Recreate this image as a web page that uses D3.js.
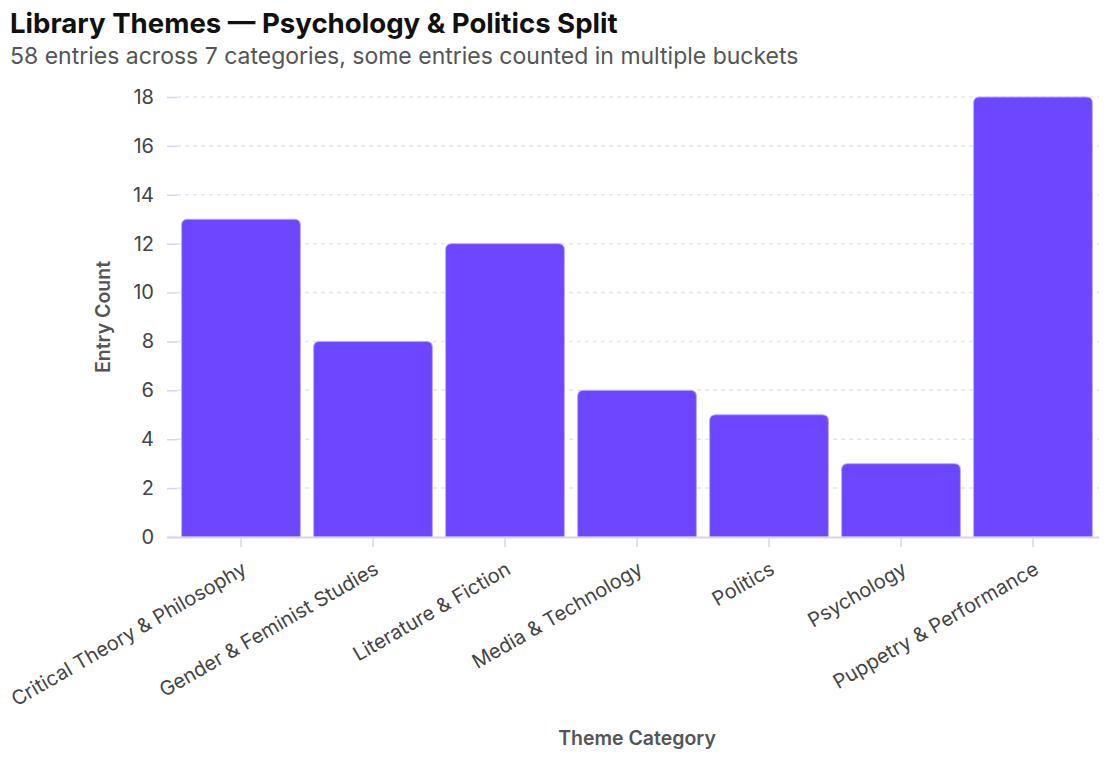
<!DOCTYPE html>
<html>
<head>
<meta charset="utf-8">
<script src="https://cdn.jsdelivr.net/npm/d3@7"></script>
<style>
  body { margin: 0; background: #fff; font-family: Inter, "Noto Sans", sans-serif; }
</style>
</head>
<body>
<div id="chart" style="width:1108px;height:760px"></div>
<script>
const categories = [
    "Critical Theory & Philosophy",
    "Gender & Feminist Studies",
    "Literature & Fiction",
    "Media & Technology",
    "Politics",
    "Psychology",
    "Puppetry & Performance"
];
const counts = [13, 8, 12, 6, 5, 3, 18];
const yTicks = [0, 2, 4, 6, 8, 10, 12, 14, 16, 18];

const width = 1108, height = 760;
const margin = { top: 97, right: 9, bottom: 223, left: 175 };
const axisX = 167;

const svg = d3.select("#chart").append("svg")
    .attr("width", width)
    .attr("height", height);

// Titles
svg.append("text").attr("x", 10).attr("y", 33)
    .text("Library Themes \u2014 Psychology & Politics Split")
    .style("font-size", "27.6px").style("font-weight", 700).style("fill", "#111");
svg.append("text").attr("x", 10).attr("y", 64)
    .text("58 entries across 7 categories, some entries counted in multiple buckets")
    .style("font-size", "23px").style("fill", "#555");

const x = d3.scaleBand()
    .domain(categories)
    .range([margin.left, width - margin.right])
    .paddingInner(0.1)
    .paddingOuter(0.05);

const y = d3.scaleLinear()
    .domain([0, 18])
    .range([height - margin.bottom, margin.top]);

// Grid lines
svg.append("g")
    .selectAll("line")
    .data(yTicks.filter(d => d > 0))
    .join("line")
    .attr("x1", axisX + 10).attr("x2", width - margin.right)
    .attr("y1", d => y(d)).attr("y2", d => y(d))
    .attr("stroke", "#e6e3f3")
    .attr("stroke-width", 1.5)
    .attr("stroke-dasharray", "4,4");

// Y axis
const yAxis = svg.append("g")
    .attr("transform", `translate(${axisX},0)`)
    .call(d3.axisRight(y).tickValues(yTicks).tickSize(10).tickPadding(0));
yAxis.select(".domain").remove();
yAxis.selectAll(".tick line").attr("stroke", "#d9d3f0").attr("stroke-width", 1.5);
yAxis.selectAll(".tick text")
    .attr("x", -13)
    .attr("text-anchor", "end")
    .style("font-size", "20px")
    .style("font-family", "Inter, sans-serif")
    .style("fill", "#444");

// Bars with rounded tops
const r = 6;
function barPath(d, i) {
    const x0 = x(categories[i]), w = x.bandwidth();
    const y0 = y(d), y1 = y(0);
    return `M${x0},${y1}V${y0 + r}Q${x0},${y0} ${x0 + r},${y0}H${x0 + w - r}Q${x0 + w},${y0} ${x0 + w},${y0 + r}V${y1}Z`;
}
svg.append("g")
    .selectAll("path")
    .data(counts)
    .join("path")
    .attr("d", barPath)
    .attr("fill", "#6c47ff")
    .attr("stroke", "#b9a8ff")
    .attr("stroke-width", 1);

// X axis
const xAxis = svg.append("g")
    .attr("transform", `translate(0,${y(0)})`)
    .call(d3.axisBottom(x).tickSize(10).tickSizeOuter(0));
xAxis.select(".domain")
    .attr("d", `M${axisX},0.5H${width - margin.right}`)
    .attr("stroke", "#d9d3f0").attr("stroke-width", 2);
xAxis.selectAll(".tick line").attr("stroke", "#d9d3f0").attr("stroke-width", 1.5);
xAxis.selectAll(".tick text")
    .attr("text-anchor", "end")
    .attr("x", 0).attr("y", 0).attr("dx", 0).attr("dy", 0)
    .attr("transform", "translate(7,36) rotate(-30)")
    .style("font-size", "20px")
    .style("font-family", "Inter, sans-serif")
    .style("fill", "#444");

// Axis titles
svg.append("text")
    .attr("x", (margin.left + width - margin.right) / 2).attr("y", 745)
    .attr("text-anchor", "middle")
    .text("Theme Category")
    .style("font-size", "19.5px").style("font-weight", 600).style("fill", "#555");
svg.append("text")
    .attr("transform", `translate(110,${(y(0) + y(18)) / 2}) rotate(-90)`)
    .attr("text-anchor", "middle")
    .text("Entry Count")
    .style("font-size", "19.5px").style("font-weight", 600).style("fill", "#555");
</script>
</body>
</html>
